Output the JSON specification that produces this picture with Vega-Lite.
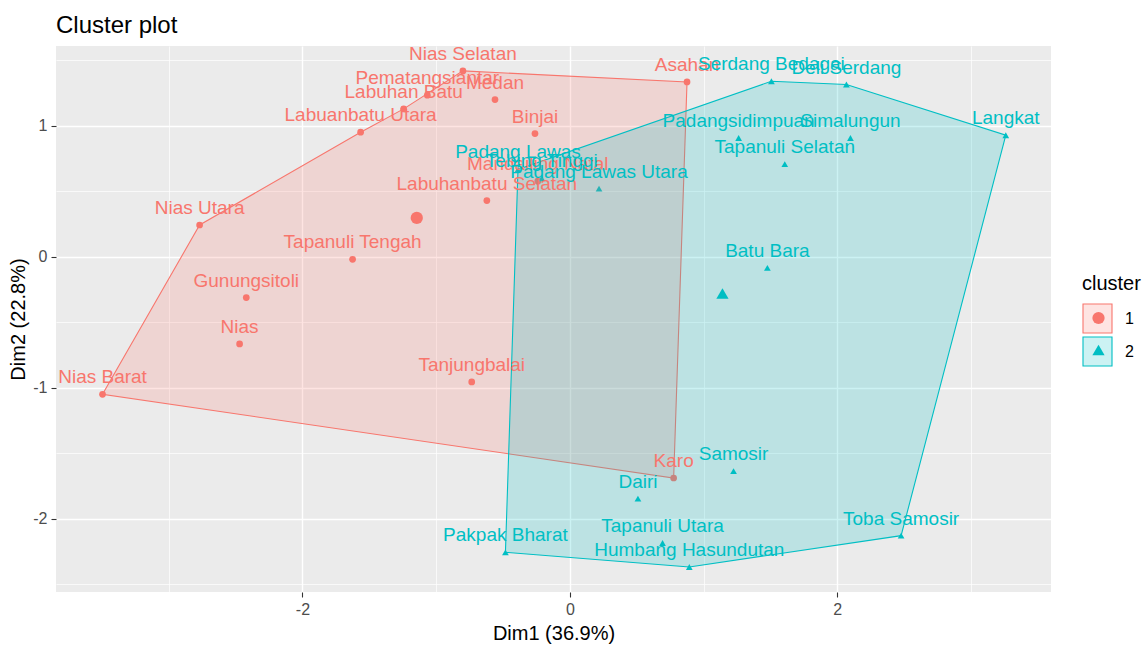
{
  "$schema": "https://vega.github.io/schema/vega-lite/v6.json",
  "width": 995,
  "height": 546,
  "autosize": {"type": "none"},
  "padding": {"left": 56, "top": 46, "right": 97, "bottom": 54},
  "background": "white",
  "title": {"text": "Cluster plot", "anchor": "start", "frame": "group", "fontSize": 24, "fontWeight": "normal", "font": "Liberation Sans", "color": "black", "offset": 7},
  "config": {"view": {"fill": "#EBEBEB", "stroke": null}, "font": "Liberation Sans"},
  "datasets": {
    "points": [
      {"name": "Nias Barat", "cluster": "1", "dim1": -3.495, "dim2": -1.051, "hull": 1},
      {"name": "Nias Utara", "cluster": "1", "dim1": -2.769, "dim2": 0.241, "hull": 2},
      {"name": "Gunungsitoli", "cluster": "1", "dim1": -2.42, "dim2": -0.313},
      {"name": "Nias", "cluster": "1", "dim1": -2.47, "dim2": -0.667},
      {"name": "Tapanuli Tengah", "cluster": "1", "dim1": -1.625, "dim2": -0.021},
      {"name": "Labuhanbatu Selatan", "cluster": "1", "dim1": -0.621, "dim2": 0.427},
      {"name": "Tanjungbalai", "cluster": "1", "dim1": -0.734, "dim2": -0.957},
      {"name": "Labuanbatu Utara", "cluster": "1", "dim1": -1.565, "dim2": 0.949, "hull": 3},
      {"name": "Labuhan Batu", "cluster": "1", "dim1": -1.243, "dim2": 1.127, "hull": 4},
      {"name": "Pematangsiantar", "cluster": "1", "dim1": -1.066, "dim2": 1.232},
      {"name": "Nias Selatan", "cluster": "1", "dim1": -0.8, "dim2": 1.417, "hull": 5},
      {"name": "Medan", "cluster": "1", "dim1": -0.56, "dim2": 1.198},
      {"name": "Binjai", "cluster": "1", "dim1": -0.261, "dim2": 0.939},
      {"name": "Asahan", "cluster": "1", "dim1": 0.876, "dim2": 1.333, "hull": 6},
      {"name": "Karo", "cluster": "1", "dim1": 0.776, "dim2": -1.69, "hull": 7},
      {"name": "Mandailing Natal", "cluster": "1", "dim1": -0.24, "dim2": 0.575},
      {"name": "Pakpak Bharat", "cluster": "2", "dim1": -0.482, "dim2": -2.257, "hull": 1},
      {"name": "Padang Lawas", "cluster": "2", "dim1": -0.388, "dim2": 0.665, "hull": 2},
      {"name": "Serdang Bedagai", "cluster": "2", "dim1": 1.507, "dim2": 1.338, "hull": 3},
      {"name": "Deli Serdang", "cluster": "2", "dim1": 2.068, "dim2": 1.313, "hull": 4},
      {"name": "Langkat", "cluster": "2", "dim1": 3.26, "dim2": 0.926, "hull": 5},
      {"name": "Toba Samosir", "cluster": "2", "dim1": 2.477, "dim2": -2.13, "hull": 6},
      {"name": "Humbang Hasundutan", "cluster": "2", "dim1": 0.893, "dim2": -2.369, "hull": 7},
      {"name": "Tapanuli Utara", "cluster": "2", "dim1": 0.693, "dim2": -2.186},
      {"name": "Dairi", "cluster": "2", "dim1": 0.509, "dim2": -1.847},
      {"name": "Samosir", "cluster": "2", "dim1": 1.224, "dim2": -1.637},
      {"name": "Padangsidimpuan", "cluster": "2", "dim1": 1.262, "dim2": 0.905},
      {"name": "Simalungun", "cluster": "2", "dim1": 2.098, "dim2": 0.905},
      {"name": "Tapanuli Selatan", "cluster": "2", "dim1": 1.607, "dim2": 0.705},
      {"name": "Batu Bara", "cluster": "2", "dim1": 1.477, "dim2": -0.087},
      {"name": "Padang Lawas Utara", "cluster": "2", "dim1": 0.218, "dim2": 0.519},
      {"name": "Tebing Tinggi", "cluster": "2", "dim1": -0.21, "dim2": 0.597}
    ],
    "centers": [
      {"cluster": "1", "dim1": -1.145, "dim2": 0.295},
      {"cluster": "2", "dim1": 1.141, "dim2": -0.282}
    ]
  },
  "layer": [
    {
      "data": {"name": "points"},
      "mark": {"type": "point", "filled": true, "size": 45, "opacity": 1},
      "encoding": {
        "x": {"field": "dim1", "type": "quantitative", "scale": {"domain": [-3.843, 3.598], "nice": false, "zero": false},
          "axis": {"values": [-2, 0, 2], "labelExpr": "'' + datum.value", "labelFlush": false, "grid": true, "gridColor": "white", "gridWidth": 1.4, "domain": false, "tickColor": "#333333", "tickSize": 5, "tickWidth": 1.1, "labelColor": "#4D4D4D", "labelFontSize": 16, "labelFont": "Liberation Sans", "labelPadding": 4, "title": "Dim1 (36.9%)", "titleFont": "Liberation Sans", "titleFontSize": 20, "titleFontWeight": "normal", "titleColor": "black", "titlePadding": 6}},
        "y": {"field": "dim2", "type": "quantitative", "scale": {"domain": [-2.56, 1.607], "nice": false, "zero": false},
          "axis": {"values": [-2, -1, 0, 1], "labelExpr": "'' + datum.value", "labelFlush": false, "grid": true, "gridColor": "white", "gridWidth": 1.4, "domain": false, "tickColor": "#333333", "tickSize": 5, "tickWidth": 1.1, "labelColor": "#4D4D4D", "labelFontSize": 16, "labelFont": "Liberation Sans", "labelPadding": 4, "title": "Dim2 (22.8%)", "titleFont": "Liberation Sans", "titleFontSize": 20, "titleFontWeight": "normal", "titleColor": "black", "titlePadding": 4}},
        "color": {"field": "cluster", "type": "nominal", "scale": {"domain": ["1", "2"], "range": ["#F8766D", "#00BFC4"]},
          "legend": {"orient": "none", "legendX": 1034.5, "legendY": 239, "title": "cluster", "titleOpacity": 0, "labelOpacity": 0, "titleFontSize": 20, "labelFontSize": 16, "symbolSize": 150, "symbolStrokeWidth": 0, "rowPadding": 16, "padding": 0}},
        "shape": {"field": "cluster", "type": "nominal", "scale": {"domain": ["1", "2"], "range": ["circle", "triangle-up"]},
          "legend": {"orient": "none", "legendX": 1034.5, "legendY": 239, "title": "cluster", "titleOpacity": 0, "labelOpacity": 0, "titleFontSize": 20, "labelFontSize": 16, "symbolSize": 150, "symbolStrokeWidth": 0, "rowPadding": 16, "padding": 0}}
      }
    },
    {
      "data": {"name": "centers"},
      "mark": {"type": "point", "filled": true, "size": 150, "opacity": 1},
      "encoding": {
        "x": {"field": "dim1", "type": "quantitative", "axis": null},
        "y": {"field": "dim2", "type": "quantitative", "axis": null},
        "color": {"field": "cluster", "type": "nominal", "legend": null},
        "shape": {"field": "cluster", "type": "nominal", "legend": null}
      }
    },
    {
      "data": {"name": "points"},
      "transform": [{"filter": "isValid(datum.hull)"}],
      "mark": {"type": "line", "interpolate": "linear-closed", "strokeWidth": 1.1},
      "encoding": {
        "x": {"field": "dim1", "type": "quantitative", "axis": null},
        "y": {"field": "dim2", "type": "quantitative", "axis": null},
        "order": {"field": "hull", "type": "quantitative"},
        "fill": {"field": "cluster", "type": "nominal", "scale": {"range": ["rgba(248,118,109,0.2)", "rgba(0,191,196,0.2)"]},
          "legend": {"orient": "none", "legendX": 1026, "legendY": 228, "title": "cluster", "titleFont": "Liberation Sans", "titleFontSize": 20, "titleFontWeight": "normal", "titleColor": "black", "titlePadding": 9, "labelFont": "Liberation Sans", "labelFontSize": 16, "labelColor": "black", "symbolType": "square", "symbolSize": 841, "symbolStrokeWidth": 1.1, "rowPadding": -3, "labelOffset": 12, "padding": 0}},
        "stroke": {"field": "cluster", "type": "nominal", "scale": {"range": ["#F8766D", "#00BFC4"]},
          "legend": {"orient": "none", "legendX": 1026, "legendY": 228, "title": "cluster", "titleFont": "Liberation Sans", "titleFontSize": 20, "titleFontWeight": "normal", "titleColor": "black", "titlePadding": 9, "labelFont": "Liberation Sans", "labelFontSize": 16, "labelColor": "black", "symbolType": "square", "symbolSize": 841, "symbolStrokeWidth": 1.1, "rowPadding": -3, "labelOffset": 12, "padding": 0}}
      }
    },
    {
      "data": {"name": "points"},
      "mark": {"type": "text", "fontSize": 19, "baseline": "alphabetic", "dy": -11, "font": "Liberation Sans"},
      "encoding": {
        "x": {"field": "dim1", "type": "quantitative", "axis": null},
        "y": {"field": "dim2", "type": "quantitative", "axis": null},
        "text": {"field": "name"},
        "color": {"field": "cluster", "type": "nominal", "legend": null}
      }
    },
    {
      "data": {"name": "points"},
      "mark": {"type": "point", "opacity": 0},
      "encoding": {
        "x": {"field": "dim1", "type": "quantitative", "axis": {"orient": "top", "values": [-3, -1, 1, 3], "grid": true, "gridColor": "white", "gridWidth": 0.7, "labels": false, "ticks": false, "domain": false, "title": null}},
        "y": {"field": "dim2", "type": "quantitative", "axis": {"orient": "right", "values": [-2.5, -1.5, -0.5, 0.5, 1.5], "grid": true, "gridColor": "white", "gridWidth": 0.7, "labels": false, "ticks": false, "domain": false, "title": null}}
      }
    }
  ],
  "resolve": {"axis": {"x": "independent", "y": "independent"}}
}
